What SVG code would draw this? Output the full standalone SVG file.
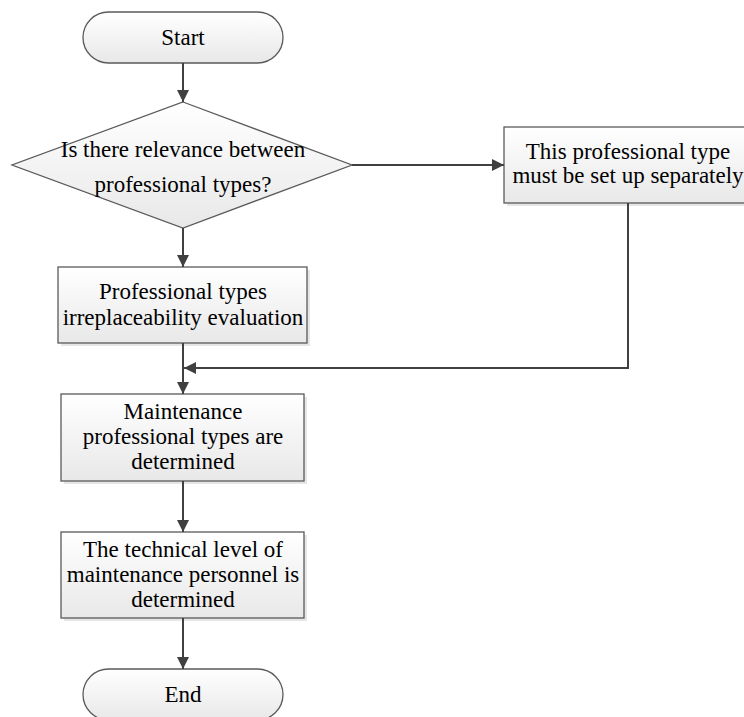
<svg xmlns="http://www.w3.org/2000/svg" width="744" height="717" viewBox="0 0 744 717">
<defs>
<linearGradient id="g" x1="0" y1="0" x2="0" y2="1">
<stop offset="0" stop-color="#ffffff"/>
<stop offset="1" stop-color="#e8e8e8"/>
</linearGradient>
<marker id="ah" viewBox="0 0 12 12" refX="12" refY="6" markerWidth="12" markerHeight="12" markerUnits="userSpaceOnUse" orient="auto">
<path d="M0,0 L12,6 L0,12 Z" fill="#404040"/>
</marker>
</defs>
<style>
.shape{fill:url(#g);stroke:#5a5a5a;stroke-width:1.3}
.shadow{fill:#e6e6e6}
.t{font-family:"Liberation Serif","Times New Roman",serif;font-size:23px;fill:#000;text-anchor:middle}
.c{fill:none;stroke:#404040;stroke-width:2}
</style>
<rect width="744" height="717" fill="#fff"/>
<g id="start">
<rect class="shape" x="83" y="12" width="200" height="51" rx="25.5"/>
<text class="t" x="183" y="45">Start</text>
</g>
<g id="decision">
<polygon class="shape" points="183,102 352,165 183,228 12,165"/>
<text class="t" x="183" y="157">Is there relevance between</text>
<text class="t" x="183" y="192">professional types?</text>
</g>
<g id="separate">
<rect class="shadow" x="507" y="130" width="244" height="76"/>
<rect class="shape" x="504" y="127" width="244" height="76"/>
<text class="t" x="628" y="159">This professional type</text>
<text class="t" x="628" y="183">must be set up separately</text>
</g>
<g id="evaluation">
<rect class="shadow" x="61" y="270" width="249" height="76"/>
<rect class="shape" x="58" y="267" width="249" height="76"/>
<text class="t" x="183" y="299">Professional types</text>
<text class="t" x="183" y="325">irreplaceability evaluation</text>
</g>
<g id="types">
<rect class="shadow" x="64" y="397" width="243" height="87"/>
<rect class="shape" x="61" y="394" width="243" height="87"/>
<text class="t" x="183" y="419">Maintenance</text>
<text class="t" x="183" y="444">professional types are</text>
<text class="t" x="183" y="469">determined</text>
</g>
<g id="level">
<rect class="shadow" x="64" y="535" width="243" height="86"/>
<rect class="shape" x="61" y="532" width="243" height="86"/>
<text class="t" x="183" y="557">The technical level of</text>
<text class="t" x="183" y="582">maintenance personnel is</text>
<text class="t" x="183" y="607">determined</text>
</g>
<g id="end">
<rect class="shape" x="83" y="669" width="200" height="51" rx="25.5"/>
<text class="t" x="183" y="702">End</text>
</g>
<g id="connectors">
<path class="c" d="M183,63 L183,102" marker-end="url(#ah)"/>
<path class="c" d="M352,165 L504,165" marker-end="url(#ah)"/>
<path class="c" d="M183,228 L183,267" marker-end="url(#ah)"/>
<path class="c" d="M183,343 L183,394" marker-end="url(#ah)"/>
<path class="c" d="M628,203 L628,368 L184,368" marker-end="url(#ah)"/>
<path class="c" d="M183,481 L183,532" marker-end="url(#ah)"/>
<path class="c" d="M183,618 L183,669" marker-end="url(#ah)"/>
</g>
</svg>
